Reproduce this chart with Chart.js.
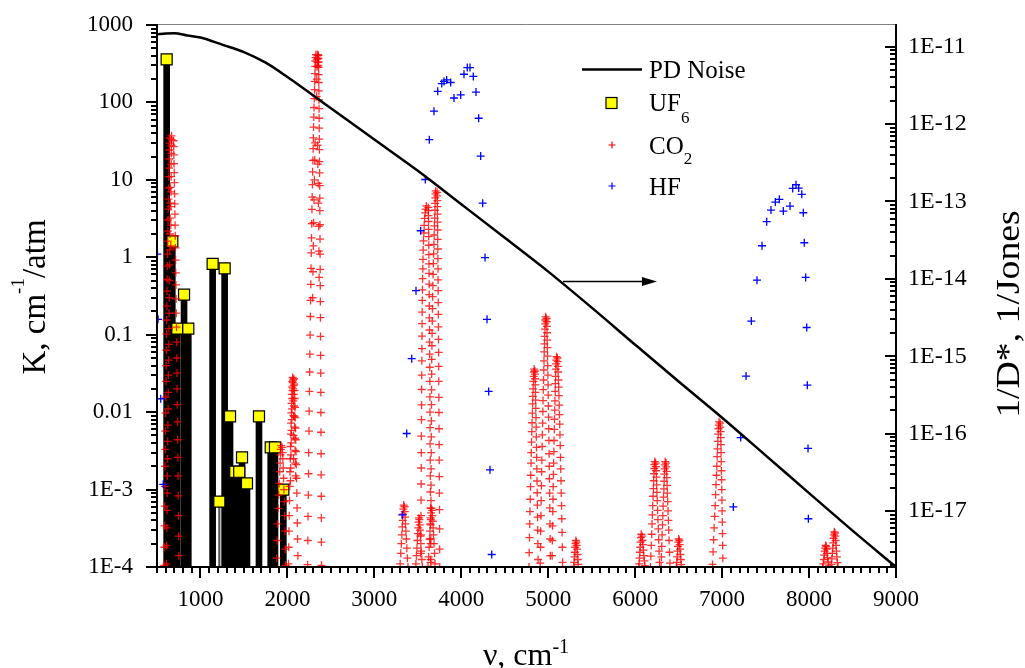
<!DOCTYPE html>
<html>
<head>
<meta charset="utf-8">
<script src="https://cdn.jsdelivr.net/npm/chart.js@4.4.0/dist/chart.umd.min.js"></script>
<style>
html,body{margin:0;padding:0;background:#fff;}
#wrap{width:1025px;height:668px;position:relative;}
</style>
</head>
<body>
<div id="wrap"><canvas id="c" width="1025" height="668"></canvas></div>
<script>
// ---------------- tick labels ----------------
const xTicks = [1000, 2000, 3000, 4000, 5000, 6000, 7000, 8000, 9000];
const kTicks = [1e-4, 1e-3, 0.01, 0.1, 1, 10, 100, 1000];
const kTickLabels = ['1E-4', '1E-3', '0.01', '0.1', '1', '10', '100', '1000'];
const dTicks = [1e-17, 1e-16, 1e-15, 1e-14, 1e-13, 1e-12, 1e-11];
const dTickLabels = ['1E-17', '1E-16', '1E-15', '1E-14', '1E-13', '1E-12', '1E-11'];

// ---------------- PD noise (right axis, 1/D*) ----------------
const pdNu = [500, 600, 700, 850, 1000, 1250, 1500, 1750, 2000, 2500, 3000, 3500, 4000, 4500, 5000, 5500, 6000, 6500, 7000, 7500, 8000, 8500, 9000];
const pdInvD = [1.44e-11, 1.48e-11, 1.49e-11, 1.39e-11, 1.31e-11, 1.06e-11, 8.5e-12, 6.2e-12, 4.05e-12, 1.60e-12, 6.3e-13, 2.49e-13, 9.2e-14, 3.39e-14, 1.24e-14, 4.25e-15, 1.41e-15, 4.72e-16, 1.61e-16, 5.26e-17, 1.71e-17, 5.6e-18, 1.9e-18];

// ---------------- UF6 ----------------
const uf6Nu = [611, 676, 734, 811, 860, 1140, 1217, 1278, 1340, 1400, 1446, 1478, 1535, 1673, 1808, 1857, 1953];
const uf6K = [360, 1.6, 0.12, 0.33, 0.12, 0.82, 7e-4, 0.72, 0.0088, 0.0017, 0.0017, 0.0026, 0.0012, 0.0088, 0.0035, 0.0035, 0.001];
const uf6ThinDrop = [false, false, false, false, false, false, true, false, false, false, false, false, false, false, false, false, false];

// ---------------- HF ----------------
const hfNu = [505, 512, 543, 572,
  3321, 3372, 3430, 3479, 3533, 3586, 3632, 3686, 3729, 3775, 3801, 3832, 3878, 3916, 3993, 4031, 4069, 4100, 4138, 4169, 4200, 4223, 4246, 4273, 4296, 4315, 4330, 4350,
  7129, 7214, 7275, 7336, 7401, 7459, 7513, 7562, 7612, 7658, 7704, 7781, 7812, 7850, 7881, 7916, 7934, 7945, 7961, 7973, 7980, 7988, 7992];
const hfK = [1.1, 0.158, 0.0149, 0.00117,
  4.7e-4, 5.3e-3, 0.049, 0.37, 2.2, 10.1, 33, 77, 139, 175, 187, 195, 181, 114, 125, 231, 282, 282, 217, 136, 62.5, 20.3, 5.0, 0.99, 0.158, 0.0185, 1.8e-3, 1.45e-4,
  5.97e-4, 4.7e-3, 0.0292, 0.150, 0.507, 1.41, 2.88, 4.07, 5.17, 5.6, 3.95, 4.59, 7.76, 8.65, 7.84, 6.5, 3.76, 1.54, 0.55, 0.124, 0.0223, 3.4e-3, 4.2e-4];

// ---------------- CO2 bands: [nu, K] ----------------
const co2Band667 = [
  [645,34.7],[643,29.9],[641,24.3],[639,18.6],[637,14.2],[635,10.9],[633,7.8],[631,5.65],[629,4.2],[627,3.03],[625,2.18],[623,1.62],[621,1.1],[619,0.77],[617,0.52],[615,0.366],[613,0.234],[611,0.155],[609,0.102],[607,0.063],[605,0.04],[603,0.025],[601,0.0156],[599,0.0097],[597,0.0057],[595,0.0033],[593,0.002],[591,0.0011],[589,6.1e-4],[587,3.4e-4],[585,1.8e-4],[583,1.05e-4],
  [667,37],[666,33],[665,28],[664,22],[663,16],[662,11],[661,7],[660,4.5],[659,2.6],[658,1.4],
  [690,32],[692,26.8],[694,21],[696,16.2],[698,12.4],[700,9.2],[702,6.6],[704,4.9],[706,3.6],[708,2.6],[710,1.9],[712,1.32],[714,0.92],[716,0.63],[718,0.44],[720,0.29],[722,0.19],[724,0.125],[726,0.08],[728,0.05],[730,0.032],[732,0.02],[734,0.0125],[736,0.0075],[738,0.0044],[740,0.0026],[742,0.0015],[744,8.3e-4],[746,4.6e-4],[748,2.5e-4],[750,1.4e-4]
];
const co2Band667hot = [
  [655,8],[653,5],[651,3.2],[649,2],[647,1.25],[645,0.8],[643,0.5],[641,0.3],[639,0.19],[637,0.12],[635,0.075],[633,0.047],[631,0.03],[629,0.018],[627,0.011],[625,0.0068],[623,0.0042],[621,0.0025],[619,0.0015],[617,9e-4],[615,5.4e-4],[613,3.2e-4],[611,1.9e-4],[609,1.1e-4]
];
const co2Band1932 = [
  [1928,3.7e-3],[1924,3.3e-3],[1920,2.8e-3],[1916,2.2e-3],[1912,1.7e-3],[1906,1.2e-3],[1900,8.5e-4],[1894,5.7e-4],[1888,3.6e-4],[1882,2.2e-4],[1876,1.3e-4],
  [1940,3.5e-3],[1944,3.0e-3],[1948,2.5e-3],[1952,1.9e-3],[1956,1.4e-3],[1960,1.0e-3],[1964,7e-4],[1968,4.6e-4],[1972,2.9e-4],[1976,1.7e-4],[1980,1.05e-4]
];
const co2Band2076 = [
  [2060,0.028],[2057,0.025],[2054,0.021],[2051,0.017],[2048,0.013],[2045,0.0098],[2042,0.0072],[2039,0.0052],[2036,0.0036],[2033,0.0025],[2030,0.0017],[2027,0.0011],[2024,7.2e-4],[2021,4.6e-4],[2018,2.9e-4],[2015,1.8e-4],[2012,1.1e-4],
  [2066,0.026],[2067,0.02],[2068,0.014],[2069,0.009],[2070,0.005],[2071,0.0025],
  [2075,0.027],[2078,0.023],[2081,0.019],[2084,0.015],[2087,0.0115],[2090,0.0085],[2093,0.0062],[2096,0.0044],[2099,0.0031],[2102,0.0021],[2105,0.0014],[2108,9e-4],[2111,5.8e-4],[2114,3.7e-4],[2117,2.3e-4],[2120,1.4e-4],
  [2062,0.024],[2059,0.019],[2056,0.015],[2053,0.011],[2050,0.008],[2047,0.0058],[2044,0.004],[2041,0.0028],[2038,0.0019],[2035,0.0013],
  [2072,0.022],[2074,0.017],[2077,0.012],[2080,0.0088],[2083,0.0064],[2086,0.0046],[2089,0.0032],[2092,0.0022],[2095,0.0015]
];
const co2Band2349 = [
  [2232,1.07e-4],[2235,2.2e-4],[2237,4.5e-4],[2240,8.5e-4],[2243,1.6e-3],[2245,3.0e-3],[2248,5.7e-3],[2250,0.0103],[2253,0.0185],[2256,0.033],[2258,0.056],[2261,0.099],[2264,0.172],[2266,0.277],[2269,0.447],[2272,0.72],[2274,1.14],[2277,1.78],[2280,2.72],[2282,4.16],[2285,6.0],[2288,8.7],[2290,12.7],[2293,17.8],[2296,25.3],[2298,34.8],[2301,48],[2304,64.6],[2306,86],[2309,112],[2312,146],[2314,187],[2317,235],[2320,292],[2322,343],[2325,380],[2328,415],
  [2392,1.05e-4],[2391,2.1e-4],[2390,4.3e-4],[2389,8.2e-4],[2388,1.55e-3],[2387,2.9e-3],[2386,5.5e-3],[2385,0.0099],[2384,0.018],[2383,0.032],[2382,0.054],[2381,0.095],[2380,0.166],[2379,0.268],[2378,0.43],[2377,0.70],[2376,1.1],[2375,1.72],[2374,2.63],[2373,4.0],[2372,5.8],[2371,8.4],[2370,12.3],[2369,17.2],[2368,24.5],[2367,33.6],[2366,46.5],[2365,62.5],[2364,83],[2363,108],[2362,141],[2361,181],[2360,228],[2359,283],[2358,333],[2357,370],[2356,405],
  [2336,120],[2338,200],[2340,290],[2342,360],[2345,400],[2347,330],[2350,415],[2352,370],[2354,300],
  [2318,30],[2314,18],[2310,10],[2306,5.5],[2302,2.8],[2298,1.4],[2294,0.65],[2290,0.3],
  [2346,28],[2350,16],[2353,9],[2356,5],[2359,2.5],[2362,1.2],[2365,0.55]
];
const co2Band3340 = [
  [3338,6.3e-4],[3334,5.6e-4],[3330,4.8e-4],[3326,4.0e-4],[3321,3.3e-4],[3316,2.6e-4],[3310,2.0e-4],[3304,1.5e-4],[3297,1.1e-4],
  [3346,6.0e-4],[3350,5.2e-4],[3354,4.4e-4],[3358,3.6e-4],[3363,2.9e-4],[3368,2.3e-4],[3374,1.75e-4],[3380,1.3e-4],[3387,1.0e-4]
];
const co2Band3515 = [
  [3512,4.3e-4],[3508,3.8e-4],[3504,3.2e-4],[3500,2.7e-4],[3495,2.2e-4],[3490,1.75e-4],[3484,1.4e-4],[3478,1.1e-4],
  [3518,4.1e-4],[3522,3.5e-4],[3526,3.0e-4],[3530,2.5e-4],[3535,2.0e-4],[3540,1.6e-4],[3546,1.25e-4],[3552,1.0e-4]
];
const co2Band3612 = [
  [3598,4.6],[3590,4.2],[3584,3.74],[3578,3.18],[3573,2.59],[3569,2.06],[3565,1.63],[3562,1.24],[3559,0.94],[3557,0.71],[3555,0.53],[3553,0.38],[3551,0.277],[3550,0.196],[3549,0.139],[3548,0.096],[3547,0.066],[3546,0.046],[3545,0.030],[3544,0.0196],[3543,0.0124],[3542,0.008],[3541,0.0049],[3540,0.003],[3539,0.0019],[3538,0.00118],[3537,7.3e-4],[3536,4.6e-4],[3535,2.6e-4],[3534,1.5e-4],
  [3620,4.4],[3621,4.0],[3622,3.45],[3623,2.9],[3624,2.3],[3625,1.85],[3626,1.43],[3627,1.08],[3628,0.82],[3629,0.62],[3630,0.45],[3631,0.33],[3632,0.235],[3633,0.165],[3634,0.115],[3635,0.08],[3636,0.056],[3637,0.038],[3638,0.025],[3639,0.0157],[3640,0.01],[3641,0.0063],[3642,0.0039],[3643,0.0024],[3644,0.0015],[3645,9.3e-4],[3646,5.8e-4],[3647,3.5e-4],[3648,2.0e-4],[3649,1.15e-4]
];
const co2Band3660 = [
  [3656,5.7e-4],[3652,5.0e-4],[3648,4.3e-4],[3644,3.6e-4],[3640,2.9e-4],[3635,2.3e-4],[3630,1.8e-4],[3624,1.35e-4],[3618,1.02e-4],
  [3664,5.4e-4],[3668,4.6e-4],[3672,3.9e-4],[3676,3.2e-4],[3681,2.6e-4],[3686,2.0e-4],[3692,1.5e-4],[3698,1.1e-4]
];
const co2Band3714 = [
  [3705,7.2],[3703,6.6],[3701,5.85],[3699,4.98],[3697,4.05],[3694,3.21],[3691,2.55],[3688,1.94],[3685,1.47],[3682,1.11],[3679,0.83],[3676,0.60],[3673,0.43],[3670,0.31],[3668,0.217],[3666,0.150],[3664,0.104],[3662,0.072],[3660,0.048],[3659,0.031],[3658,0.0194],[3657,0.0125],[3656,0.0077],[3655,0.0048],[3654,0.003],[3653,0.00185],[3652,0.00114],[3651,7.2e-4],[3650,4.1e-4],[3649,2.3e-4],[3648,1.25e-4],
  [3722,6.9],[3723,6.2],[3724,5.4],[3725,4.5],[3726,3.6],[3727,2.85],[3728,2.25],[3729,1.7],[3730,1.28],[3731,0.96],[3732,0.71],[3733,0.51],[3734,0.37],[3735,0.26],[3736,0.183],[3737,0.126],[3738,0.087],[3739,0.059],[3740,0.039],[3741,0.025],[3742,0.0155],[3743,0.0099],[3744,0.0061],[3745,0.0038],[3746,0.0024],[3747,0.00147],[3748,9e-4],[3749,5.5e-4],[3750,3.1e-4],[3751,1.7e-4],[3752,1.0e-4]
];
const co2Band4853 = [
  [4838,0.036],[4835,0.033],[4832,0.029],[4829,0.025],[4826,0.020],[4823,0.016],[4820,0.0128],[4817,0.0097],[4814,0.0073],[4811,0.0056],[4808,0.0041],[4805,0.0030],[4802,0.0022],[4799,0.00153],[4796,0.00109],[4793,7.5e-4],[4790,5.2e-4],[4787,3.6e-4],[4784,2.4e-4],[4781,1.53e-4],[4778,1.0e-4],
  [4845,0.034],[4847,0.031],[4849,0.027],[4851,0.0225],[4853,0.018],[4855,0.0143],[4857,0.0112],[4859,0.0085],[4861,0.0064],[4863,0.0048],[4865,0.0035],[4867,0.0026],[4869,0.00185],[4871,0.00129],[4873,9.1e-4],[4875,6.3e-4],[4877,4.4e-4],[4879,3.0e-4],[4881,2.0e-4],[4883,1.25e-4]
];
const co2Band4978 = [
  [4970,0.170],[4967,0.155],[4965,0.138],[4962,0.118],[4959,0.095],[4957,0.076],[4954,0.060],[4951,0.046],[4949,0.035],[4946,0.026],[4943,0.0195],[4940,0.0141],[4938,0.0102],[4935,0.0072],[4932,0.0051],[4930,0.0036],[4927,0.0024],[4924,0.0017],[4922,0.00112],[4919,7.2e-4],[4916,4.6e-4],[4913,2.9e-4],[4911,1.8e-4],[4908,1.12e-4],
  [4980,0.162],[4982,0.147],[4984,0.128],[4986,0.106],[4988,0.085],[4990,0.068],[4992,0.053],[4994,0.040],[4996,0.030],[4998,0.0225],[5000,0.0166],[5002,0.012],[5004,0.0086],[5006,0.0061],[5008,0.0043],[5010,0.0029],[5012,0.002],[5014,0.00138],[5016,9e-4],[5018,5.8e-4],[5020,3.6e-4],[5022,2.3e-4],[5024,1.4e-4]
];
const co2Band5100 = [
  [5095,0.052],[5092,0.047],[5090,0.042],[5087,0.036],[5085,0.029],[5082,0.0233],[5080,0.0185],[5077,0.014],[5075,0.0106],[5072,0.0081],[5070,0.006],[5067,0.0043],[5065,0.0031],[5062,0.0022],[5060,0.00157],[5057,0.00109],[5055,7.5e-4],[5052,5.2e-4],[5050,3.4e-4],[5047,2.2e-4],[5045,1.4e-4],
  [5105,0.05],[5108,0.045],[5111,0.039],[5114,0.033],[5117,0.026],[5120,0.021],[5123,0.0163],[5126,0.0123],[5129,0.0093],[5132,0.007],[5135,0.0051],[5138,0.0037],[5141,0.0026],[5144,0.00185],[5147,0.0013],[5150,9e-4],[5153,6.2e-4],[5156,4.2e-4],[5159,2.8e-4],[5162,1.8e-4],[5165,1.15e-4]
];
const co2Band5320 = [
  [5318,2.2e-4],[5314,2.0e-4],[5310,1.8e-4],[5306,1.55e-4],[5302,1.35e-4],[5298,1.15e-4],[5294,1.02e-4],
  [5324,2.1e-4],[5328,1.9e-4],[5332,1.7e-4],[5336,1.45e-4],[5340,1.25e-4],[5344,1.08e-4]
];
const co2Band6075 = [
  [6070,2.65e-4],[6066,2.4e-4],[6062,2.1e-4],[6058,1.8e-4],[6054,1.55e-4],[6050,1.3e-4],[6045,1.1e-4],[6040,1.0e-4],
  [6080,2.5e-4],[6085,2.2e-4],[6090,1.95e-4],[6095,1.65e-4],[6100,1.4e-4],[6106,1.2e-4],[6112,1.04e-4]
];
const co2Band6228 = [
  [6225,2.3e-3],[6222,2.1e-3],[6219,1.87e-3],[6216,1.6e-3],[6213,1.3e-3],[6210,1.03e-3],[6206,8.2e-4],[6202,6.2e-4],[6198,4.7e-4],[6194,3.6e-4],[6190,2.65e-4],[6185,1.9e-4],[6180,1.38e-4],[6175,1.0e-4],
  [6235,2.2e-3],[6238,1.98e-3],[6241,1.75e-3],[6244,1.45e-3],[6247,1.15e-3],[6250,9.2e-4],[6254,7.2e-4],[6258,5.4e-4],[6262,4.1e-4],[6266,3.1e-4],[6270,2.25e-4],[6275,1.6e-4],[6280,1.15e-4]
];
const co2Band6348 = [
  [6345,2.3e-3],[6342,2.08e-3],[6339,1.85e-3],[6336,1.58e-3],[6333,1.28e-3],[6330,1.02e-3],[6326,8.0e-4],[6322,6.1e-4],[6318,4.6e-4],[6314,3.5e-4],[6310,2.6e-4],[6306,1.85e-4],[6302,1.35e-4],[6298,1.0e-4],
  [6355,2.2e-3],[6358,1.96e-3],[6361,1.72e-3],[6364,1.43e-3],[6367,1.13e-3],[6370,9.0e-4],[6374,7.0e-4],[6378,5.3e-4],[6382,4.0e-4],[6386,3.0e-4],[6390,2.2e-4],[6395,1.55e-4],[6400,1.12e-4]
];
const co2Band6503 = [
  [6500,2.3e-4],[6496,2.1e-4],[6492,1.85e-4],[6488,1.6e-4],[6484,1.35e-4],[6479,1.15e-4],[6474,1.0e-4],
  [6508,2.2e-4],[6512,1.95e-4],[6516,1.7e-4],[6520,1.45e-4],[6525,1.25e-4],[6530,1.07e-4]
];
const co2Band6972 = [
  [6965,7.5e-3],[6962,6.8e-3],[6958,6.1e-3],[6955,5.2e-3],[6951,4.2e-3],[6947,3.35e-3],[6943,2.66e-3],[6939,2.0e-3],[6935,1.53e-3],[6930,1.16e-3],[6925,8.6e-4],[6920,6.2e-4],[6914,4.5e-4],[6908,3.2e-4],[6902,2.25e-4],[6896,1.57e-4],[6890,1.08e-4],
  [6978,7.2e-3],[6980,6.4e-3],[6982,5.6e-3],[6984,4.7e-3],[6986,3.8e-3],[6988,3.0e-3],[6990,2.3e-3],[6992,1.75e-3],[6994,1.34e-3],[6996,1.0e-3],[6998,7.3e-4],[7000,5.3e-4],[7002,3.8e-4],[7004,2.7e-4],[7006,1.9e-4],[7008,1.3e-4]
];
const co2Band8193 = [
  [8190,1.9e-4],[8185,1.75e-4],[8180,1.6e-4],[8175,1.42e-4],[8170,1.25e-4],[8163,1.1e-4],[8156,1.0e-4],
  [8198,1.85e-4],[8203,1.7e-4],[8208,1.5e-4],[8213,1.32e-4],[8220,1.16e-4],[8228,1.03e-4]
];
const co2Band8294 = [
  [8290,2.85e-4],[8286,2.6e-4],[8282,2.35e-4],[8278,2.05e-4],[8273,1.75e-4],[8268,1.5e-4],[8262,1.27e-4],[8256,1.08e-4],
  [8298,2.75e-4],[8302,2.5e-4],[8306,2.2e-4],[8310,1.9e-4],[8315,1.6e-4],[8320,1.35e-4],[8326,1.14e-4],[8333,1.0e-4]
];

// arrow annotation (data units)
const arrowNu = [5170, 6250];
const arrowK = 0.49;

// ---------------- build datasets ----------------
const toXY = (xs, ys) => xs.map((v, i) => ({x: v, y: ys[i]}));
const co2Points = [co2Band667, co2Band667hot, co2Band1932, co2Band2076, co2Band2349, co2Band3340, co2Band3515,
  co2Band3612, co2Band3660, co2Band3714, co2Band4853, co2Band4978, co2Band5100, co2Band5320, co2Band6075,
  co2Band6228, co2Band6348, co2Band6503, co2Band6972, co2Band8193, co2Band8294]
  .flat().map(p => ({x: p[0], y: p[1]}));
const uf6Points = toXY(uf6Nu, uf6K);
const uf6ThickDrops = uf6Points.filter((p, i) => !uf6ThinDrop[i]);
const uf6ThinDrops = uf6Points.filter((p, i) => uf6ThinDrop[i]);

const FONT = '"Liberation Serif", "Times New Roman", serif';
Chart.defaults.font.family = FONT;
Chart.defaults.color = '#000';

function drawRich(ctx, parts, x, y, align) {
  let total = 0;
  parts.forEach(p => { ctx.font = p[1] + 'px ' + FONT; total += ctx.measureText(p[0]).width; });
  let cx = align === 'center' ? x - total / 2 : x;
  parts.forEach(p => {
    ctx.font = p[1] + 'px ' + FONT;
    ctx.fillText(p[0], cx, y - p[2]);
    cx += ctx.measureText(p[0]).width;
  });
}

function drawCross(ctx, x, y, r, color) {
  ctx.strokeStyle = color; ctx.lineWidth = 1.2;
  ctx.beginPath();
  ctx.moveTo(x - r, y); ctx.lineTo(x + r, y);
  ctx.moveTo(x, y - r); ctx.lineTo(x, y + r);
  ctx.stroke();
}

const decor = {
  id: 'decor',
  afterDatasetsDraw(chart) {
    const {ctx, chartArea: a, scales} = chart;
    const x = scales.x, y = scales.y, y2 = scales.y2;
    ctx.save();
    // arrow
    const ax0 = x.getPixelForValue(arrowNu[0]);
    const ax1 = x.getPixelForValue(arrowNu[1]);
    const ay = Math.round(y.getPixelForValue(arrowK)) + 0.5;
    ctx.strokeStyle = '#000'; ctx.fillStyle = '#000'; ctx.lineWidth = 1.3;
    ctx.beginPath(); ctx.moveTo(ax0, ay); ctx.lineTo(ax1 - 6, ay); ctx.stroke();
    ctx.beginPath(); ctx.moveTo(ax1, ay); ctx.lineTo(ax1 - 15, ay - 4.5); ctx.lineTo(ax1 - 15, ay + 4.5); ctx.closePath(); ctx.fill();

    // frame
    ctx.strokeStyle = '#808080'; ctx.lineWidth = 1;
    ctx.beginPath(); ctx.moveTo(a.left, a.top - 0.5); ctx.lineTo(a.right, a.top - 0.5); ctx.stroke();
    ctx.strokeStyle = '#000'; ctx.lineWidth = 2;
    ctx.beginPath();
    ctx.moveTo(a.left, a.top - 1); ctx.lineTo(a.left, a.bottom + 1);
    ctx.moveTo(a.left - 1, a.bottom); ctx.lineTo(a.right + 1, a.bottom);
    ctx.moveTo(a.right, a.top - 1); ctx.lineTo(a.right, a.bottom + 1);
    for (let v = x.min; v <= x.max + 1e-6; v += 100) {
      const px = Math.round(x.getPixelForValue(v));
      const L = (v % 1000 === 0) ? 11 : 6;
      ctx.moveTo(px, a.bottom); ctx.lineTo(px, a.bottom + L);
    }
    for (let e = -4; e <= 3; e++) {
      for (let m = 1; m <= 9; m++) {
        const v = m * Math.pow(10, e);
        if (v > y.max * 1.0001) break;
        const py = Math.round(y.getPixelForValue(v));
        const L = m === 1 ? 11 : 6;
        ctx.moveTo(a.left, py); ctx.lineTo(a.left - L, py);
      }
    }
    for (let e = -18; e <= -11; e++) {
      for (let m = 1; m <= 9; m++) {
        const v = m * Math.pow(10, e);
        if (v < y2.min || v > y2.max) continue;
        const py = Math.round(y2.getPixelForValue(v));
        const L = m === 1 ? 11 : 6;
        ctx.moveTo(a.right, py); ctx.lineTo(a.right - L, py);
      }
    }
    ctx.stroke();
    ctx.restore();
  },
  afterDraw(chart) {
    const {ctx} = chart;
    ctx.save();
    ctx.fillStyle = '#000';
    ctx.textBaseline = 'alphabetic';
    ctx.textAlign = 'left';

    drawRich(ctx, [['\u03BD, cm', 32, 0], ['-1', 20, 12]], 526, 665, 'center');

    ctx.save();
    ctx.translate(45, 297);
    ctx.rotate(-Math.PI / 2);
    drawRich(ctx, [['K, cm', 33, 0], ['-1', 19, 21], ['/atm', 33, 0]], 0, 0, 'center');
    ctx.restore();

    ctx.save();
    ctx.translate(1019, 314);
    ctx.rotate(-Math.PI / 2);
    ctx.scale(1.11, 1);
    drawRich(ctx, [['1/D*, 1/Jones', 34, 0]], 0, 0, 'center');
    ctx.restore();

    ctx.strokeStyle = '#000'; ctx.lineWidth = 2.5;
    ctx.beginPath(); ctx.moveTo(582, 69.5); ctx.lineTo(642, 69.5); ctx.stroke();
    ctx.fillStyle = '#000';
    drawRich(ctx, [['PD Noise', 25, 0]], 649, 77.5, 'left');

    ctx.fillStyle = '#ffff00'; ctx.fillRect(606, 97.5, 11, 11);
    ctx.strokeStyle = '#000'; ctx.lineWidth = 1.2; ctx.strokeRect(606, 97.5, 11, 11);
    ctx.fillStyle = '#000';
    drawRich(ctx, [['UF', 25, 0], ['6', 17, -11.5]], 649, 111, 'left');

    drawCross(ctx, 612, 145, 3.5, '#ff0000');
    ctx.fillStyle = '#000';
    drawRich(ctx, [['CO', 25, 0], ['2', 17, -10.5]], 649, 153.5, 'left');

    drawCross(ctx, 612, 186, 3.5, '#0000ff');
    ctx.fillStyle = '#000';
    drawRich(ctx, [['HF', 25, 0]], 649, 195, 'left');
    ctx.restore();
  }
};

new Chart(document.getElementById('c').getContext('2d'), {
  type: 'scatter',
  data: {
    datasets: [
      {type: 'line', label: 'PD Noise', data: toXY(pdNu, pdInvD), yAxisID: 'y2',
       borderColor: '#000', borderWidth: 2.5, pointRadius: 0, fill: false,
       cubicInterpolationMode: 'monotone', order: 0, clip: 0},
      {type: 'scatter', label: 'HF', data: toXY(hfNu, hfK), yAxisID: 'y',
       pointStyle: 'cross', pointRadius: 4, pointBorderColor: '#0000ff', borderColor: '#0000ff',
       pointBorderWidth: 1.3, order: 1, clip: 0},
      {type: 'scatter', label: 'CO2', data: co2Points, yAxisID: 'y',
       pointStyle: 'cross', pointRadius: 4, pointBorderColor: 'rgba(255,0,0,0.8)', borderColor: 'rgba(255,0,0,0.8)',
       pointBorderWidth: 1.3, order: 2, clip: 0},
      {type: 'scatter', label: 'UF6', data: uf6Points, yAxisID: 'y',
       pointStyle: 'rect', pointRadius: 7.8, pointBackgroundColor: '#ffff00', backgroundColor: '#ffff00',
       pointBorderColor: '#000', borderColor: '#000', pointBorderWidth: 1.2, order: 3, clip: 0},
      {type: 'bar', label: 'UF6 drop', data: uf6ThickDrops, yAxisID: 'y', base: 1e-4, grouped: false,
       backgroundColor: '#000', borderWidth: 0, barThickness: 6, order: 4, clip: 0},
      {type: 'bar', label: 'UF6 drop thin', data: uf6ThinDrops, yAxisID: 'y', base: 1e-4, grouped: false,
       backgroundColor: '#555', borderWidth: 0, barThickness: 1.5, order: 5, clip: 0}
    ]
  },
  options: {
    responsive: false,
    animation: false,
    devicePixelRatio: 1,
    layout: {padding: {top: 25, left: 0, right: 0, bottom: 0}},
    plugins: {legend: {display: false}, tooltip: {enabled: false}},
    scales: {
      x: {
        type: 'linear', position: 'bottom', min: 500, max: 9000, offset: false,
        grid: {display: false, drawTicks: false}, border: {display: false},
        afterBuildTicks: s => { s.ticks = xTicks.map(v => ({value: v})); },
        ticks: {autoSkip: false, maxRotation: 0, padding: 19, font: {size: 23}, color: '#000',
                callback: (v, i) => String(xTicks[i])},
        afterFit: s => { s.height = 101; s.paddingLeft = 0; s.paddingRight = 0; }
      },
      y: {
        type: 'logarithmic', position: 'left', min: 1e-4, max: 1000,
        grid: {display: false, drawTicks: false}, border: {display: false},
        afterBuildTicks: s => { s.ticks = kTicks.map(v => ({value: v})); },
        ticks: {autoSkip: false, padding: 24, font: {size: 23}, color: '#000',
                callback: (v, i) => kTickLabels[i]},
        afterFit: s => { s.width = 157; s.paddingTop = 0; s.paddingBottom = 0; }
      },
      y2: {
        type: 'logarithmic', position: 'right', min: 1.9e-18, max: 1.9e-11,
        grid: {display: false, drawTicks: false}, border: {display: false},
        afterBuildTicks: s => { s.ticks = dTicks.map(v => ({value: v})); },
        ticks: {autoSkip: false, padding: 12, font: {size: 24}, color: '#000',
                callback: (v, i) => dTickLabels[i]},
        afterFit: s => { s.width = 129; s.paddingTop = 0; s.paddingBottom = 0; }
      }
    }
  },
  plugins: [decor]
});
</script>
</body>
</html>
